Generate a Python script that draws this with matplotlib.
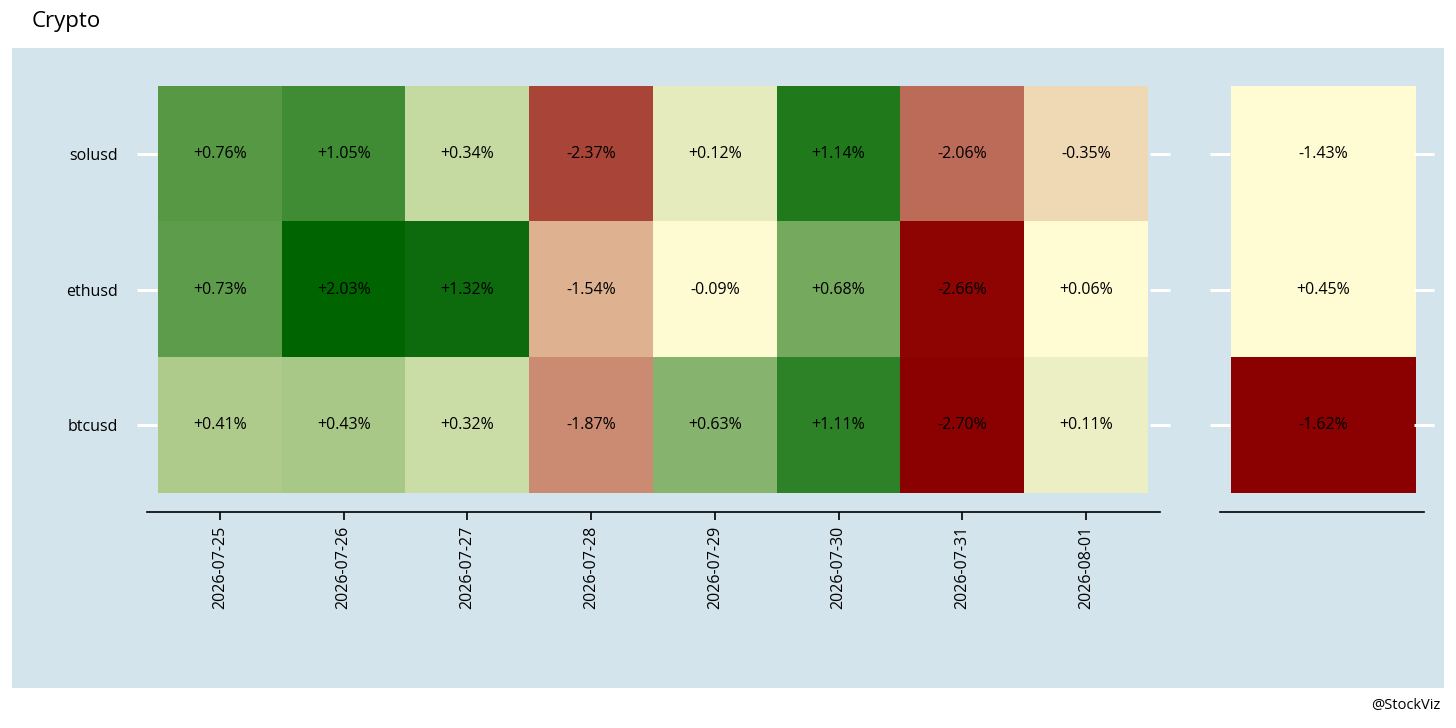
import matplotlib
matplotlib.use("Agg")
import matplotlib.pyplot as plt
import numpy as np
from matplotlib.colors import LinearSegmentedColormap, TwoSlopeNorm, ListedColormap
from matplotlib.patches import Rectangle

plt.rcParams['font.family'] = ['Open Sans', 'DejaVu Sans']

dates = ["2026-07-25","2026-07-26","2026-07-27","2026-07-28","2026-07-29","2026-07-30","2026-07-31","2026-08-01"]
tickers = ["solusd", "ethusd", "btcusd"]
solusd = [0.76, 1.05, 0.34, -2.37, 0.12, 1.14, -2.06, -0.35]
ethusd = [0.73, 2.03, 1.32, -1.54, -0.09, 0.68, -2.66, 0.06]
btcusd = [0.41, 0.43, 0.32, -1.87, 0.63, 1.11, -2.70, 0.11]
summary = [-1.43, 0.45, -1.62]

W, H = 1456, 728
fig = plt.figure(figsize=(W/100, H/100), dpi=100)
fig.patches.append(Rectangle((12/W, 1-688/H), 1432/W, 640/H, transform=fig.transFigure,
                             facecolor="#d4e4ec", edgecolor="none", zorder=-10))
fig.text(32/W, 1-21/H, "Crypto", fontsize=16, va="center", ha="left")
fig.text(1440/W, 1-706/H, "@StockViz", fontsize=10.5, va="center", ha="right")

vmin, vmax = -2.70, 2.03
norm = TwoSlopeNorm(vmin=vmin, vcenter=0, vmax=vmax)
nodes = [(-2.70, "#8b0000"), (-2.37, "#ab473b"), (-2.06, "#be6c5a"), (-1.87, "#cc8c74"),
         (-1.54, "#dfb593"), (-0.35, "#efd8b4"), (-0.09, "#fffcd3"), (0.06, "#fffcd3"),
         (0.12, "#e6ebbd"), (0.32, "#cddfa9"), (0.41, "#adcb8b"), (0.63, "#86b46e"),
         (0.76, "#569844"), (1.05, "#448e38"), (1.14, "#207a1c"), (1.32, "#0e6c0e"),
         (2.03, "#006400")]
cmap = LinearSegmentedColormap.from_list("rg", [(float(norm(v)), c) for v, c in nodes])

data = np.array([solusd, ethusd, btcusd])
colw = 990/8
ax = fig.add_axes([147/W, 1-493/H, 1013/W, 407/H])
ax.imshow(data, cmap=cmap, norm=norm, aspect="auto", extent=(-0.5, 7.5, 2.5, -0.5))
ax.set_xlim(-0.5-11/colw, 7.5+12/colw)
ax.set_ylim(2.5, -0.5)
for i in range(3):
    for j in range(8):
        ax.text(j, i, f"{data[i, j]:+.2f}%", ha="center", va="center", fontsize=11.5)

ax2 = fig.add_axes([1220/W, 1-493/H, 204/W, 407/H])
s = np.array(summary).reshape(-1, 1)
cmap2 = LinearSegmentedColormap.from_list("r2", ["#8b0000", "#fffcd3"])
ax2.imshow(s, cmap=cmap2, vmin=-1.62, vmax=-1.43, aspect="auto", extent=(-0.5, 0.5, 2.5, -0.5))
ax2.set_xlim(-0.5-11/185, 0.5+8/185)
ax2.set_ylim(2.5, -0.5)
for i in range(3):
    ax2.text(0, i, f"{summary[i]:+.2f}%", ha="center", va="center", fontsize=11.5)

for a in (ax, ax2):
    a.set_facecolor("none")
    for sp in ("top", "left", "right"):
        a.spines[sp].set_visible(False)
    a.spines["bottom"].set_position(("outward", 14))
    a.spines["bottom"].set_linewidth(1.2)
    a.set_yticks(range(3))
    a.tick_params(axis="y", which="both", left=True, right=True, direction="inout",
                  length=14, width=2.2, color="white")
ax.set_yticklabels(tickers, fontsize=11.5)
ax.tick_params(axis="y", pad=14)
ax2.set_yticklabels([])
ax.set_xticks(range(8))
ax.set_xticklabels(dates, rotation=90, fontsize=11.5)
ax.tick_params(axis="x", length=6, width=1.2)
ax2.set_xticks([])

fig.savefig("out.png", dpi=100)
